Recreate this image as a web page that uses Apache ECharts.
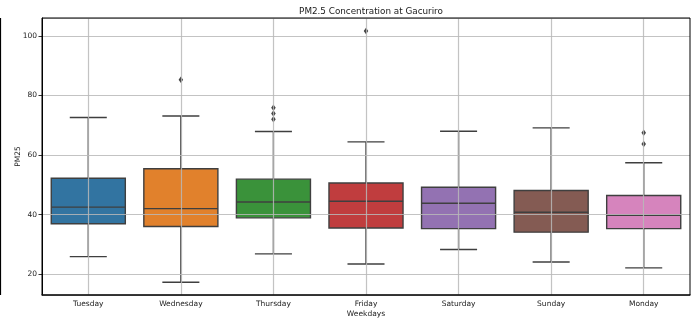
<!DOCTYPE html>
<html>
<head>
<meta charset="utf-8">
<script src="https://cdn.jsdelivr.net/npm/echarts@6/dist/echarts.min.js"></script>
<style>
  html, body { margin: 0; padding: 0; background: #fff; }
  #chart { width: 694px; height: 320px; }
</style>
</head>
<body>
<div id="chart"></div>
<script>
// PM2.5 readings at Gacuriro, grouped by day of the week
const weekdays = ['Tuesday', 'Wednesday', 'Thursday', 'Friday', 'Saturday', 'Sunday', 'Monday'];
const whiskerLow  = [25.9, 17.3, 26.8, 23.4, 28.3, 24.1, 22.1];
const quartile1   = [36.9, 36.0, 38.9, 35.5, 35.3, 34.1, 35.3];
const medians     = [42.5, 42.0, 44.2, 44.5, 43.8, 40.8, 39.8];
const quartile3   = [52.2, 55.4, 51.9, 50.6, 49.2, 48.1, 46.4];
const whiskerHigh = [72.6, 73.1, 67.9, 64.4, 68.0, 69.1, 57.4];
// outliers as [day, value]
const outliers = [
  ['Wednesday', 85.3],
  ['Thursday', 75.9], ['Thursday', 73.9], ['Thursday', 72.0],
  ['Friday', 101.6],
  ['Monday', 67.5], ['Monday', 63.7]
];
const yTicks = [20, 40, 60, 80, 100];

const boxColors = ['#3274a1', '#e1812c', '#3a923a', '#c03d3e', '#9372b2', '#845b53', '#d684bd'];
const edgeColor = '#3f3f3f';
const font = 'DejaVu Sans';

const boxData = weekdays.map((d, i) =>
  [i, whiskerLow[i], quartile1[i], medians[i], quartile3[i], whiskerHigh[i]]);

function renderBox(params, api) {
  const i = api.value(0);
  const band = api.size([1, 0])[0];
  const half = band * 0.8 / 2;
  const cap = half / 2;
  const pLo = api.coord([i, api.value(1)]);
  const pQ1 = api.coord([i, api.value(2)]);
  const pMed = api.coord([i, api.value(3)]);
  const pQ3 = api.coord([i, api.value(4)]);
  const pHi = api.coord([i, api.value(5)]);
  const x = pMed[0];
  const line = (x1, y1, x2, y2) => ({
    type: 'line',
    shape: { x1, y1, x2, y2 },
    style: { stroke: edgeColor, lineWidth: 1.4 }
  });
  return {
    type: 'group',
    children: [
      line(x, pQ3[1], x, pHi[1]),
      line(x, pQ1[1], x, pLo[1]),
      line(x - cap, pHi[1], x + cap, pHi[1]),
      line(x - cap, pLo[1], x + cap, pLo[1]),
      {
        type: 'rect',
        shape: { x: x - half, y: pQ3[1], width: half * 2, height: pQ1[1] - pQ3[1] },
        style: { fill: boxColors[i % boxColors.length], stroke: edgeColor, lineWidth: 1.4 }
      },
      line(x - half, pMed[1], x + half, pMed[1])
    ]
  };
}

const chart = echarts.init(document.getElementById('chart'), null, { renderer: 'canvas' });
chart.setOption({
  animation: false,
  backgroundColor: '#fff',
  textStyle: { fontFamily: font },
  title: {
    text: 'PM2.5 Concentration at Gacuriro',
    left: 366, top: 2, textAlign: 'center',
    textStyle: { fontFamily: font, fontSize: 8.8, fontWeight: 'normal', color: '#1a1a1a' }
  },
  grid: {
    left: 42, right: 4, top: 18, bottom: 25,
    outerBoundsMode: 'none',
    containLabel: false,
    show: true, z: 10,
    borderColor: '#000', borderWidth: 1, backgroundColor: 'transparent'
  },
  graphic: [{
    type: 'line',
    shape: { x1: 0.5, y1: 18, x2: 0.5, y2: 295 },
    style: { stroke: '#000', lineWidth: 1.2 }
  }],
  xAxis: {
    type: 'category',
    data: weekdays,
    z: 4,
    name: 'Weekdays',
    nameLocation: 'middle',
    nameMoveOverlap: false,
    nameGap: 15,
    nameTextStyle: { fontFamily: font, fontSize: 7.5, color: '#222' },
    axisLine: { lineStyle: { color: '#444', width: 1.6 } },
    axisTick: { alignWithLabel: true, length: 3, lineStyle: { color: '#333' } },
    axisLabel: { fontFamily: font, fontSize: 7.5, color: '#222', margin: 5 },
    splitLine: { show: true, alignWithLabel: true, lineStyle: { color: 'rgba(185,185,185,0.85)', width: 1.2 } }
  },
  yAxis: {
    type: 'value',
    min: 13, max: 106,
    minInterval: 20, maxInterval: 20,
    z: 4,
    name: 'PM25',
    nameLocation: 'middle',
    nameMoveOverlap: false,
    nameGap: 20,
    nameTextStyle: { fontFamily: font, fontSize: 7.5, color: '#222' },
    axisLine: { show: true, lineStyle: { color: '#000', width: 1 } },
    axisTick: { show: true, length: 3.5, lineStyle: { color: '#333' } },
    axisLabel: {
      fontFamily: font, fontSize: 7.5, color: '#222', margin: 5,
      showMinLabel: false, showMaxLabel: false,
      formatter: v => (yTicks.includes(v) ? String(v) : '')
    },
    splitLine: { show: true, lineStyle: { color: 'rgba(185,185,185,0.85)', width: 1.2 } }
  },
  series: [
    {
      type: 'custom',
      renderItem: renderBox,
      encode: { x: 0, y: [1, 2, 3, 4, 5] },
      data: boxData,
      z: 2
    },
    {
      type: 'scatter',
      data: outliers,
      symbol: 'diamond',
      symbolSize: [4.5, 6.5],
      itemStyle: { color: edgeColor, opacity: 1 },
      z: 3
    }
  ]
});
</script>
</body>
</html>
